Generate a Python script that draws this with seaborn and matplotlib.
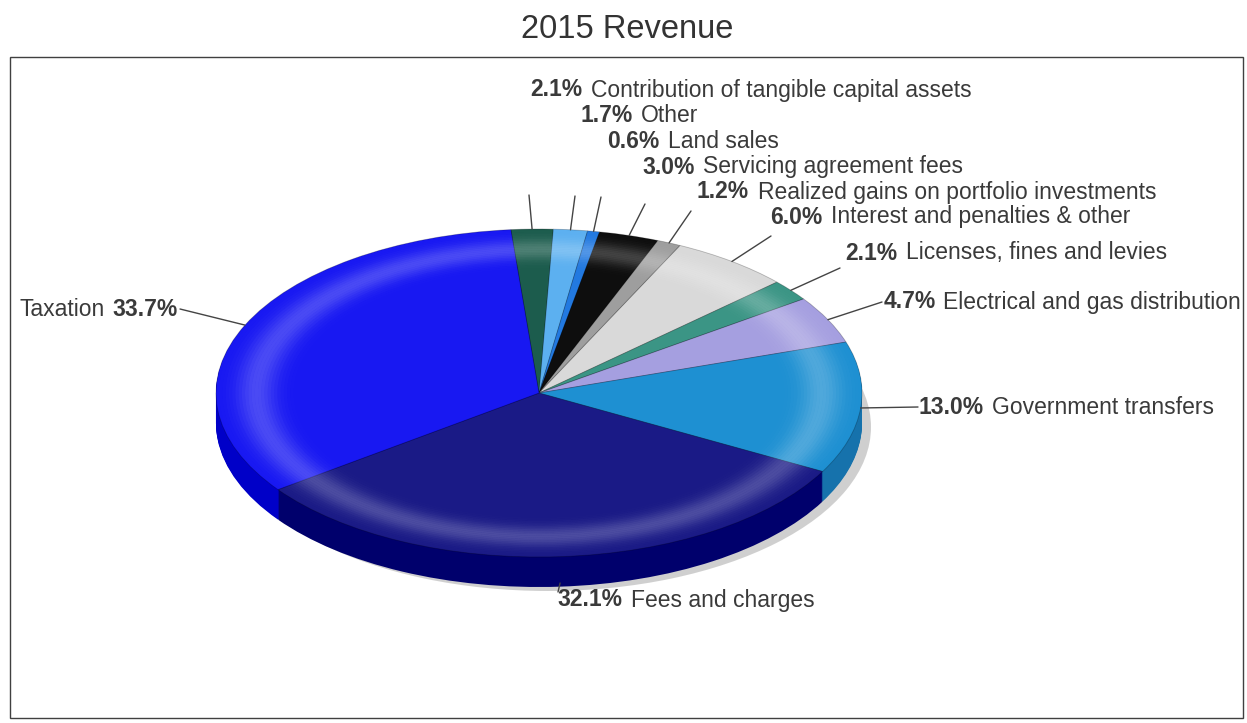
import numpy as np
import matplotlib
matplotlib.use("Agg")
import matplotlib.pyplot as plt
import seaborn as sns
from matplotlib.patches import Rectangle, Wedge

sns.set_theme(style="white")
plt.rcParams['font.family'] = ['Liberation Sans', 'DejaVu Sans']

# Revenue composition, listed clockwise from the top of the pie
categories = [
    "Contribution of tangible capital assets",
    "Other",
    "Land sales",
    "Servicing agreement fees",
    "Realized gains on portfolio investments",
    "Interest and penalties & other",
    "Licenses, fines and levies",
    "Electrical and gas distribution",
    "Government transfers",
    "Fees and charges",
    "Taxation",
]
shares = [2.1, 1.7, 0.6, 3.0, 1.2, 6.0, 2.1, 4.7, 13.0, 32.1, 33.7]

top_colors = ["#1c5c4d", "#5cb0f0", "#2279e0", "#0e0e0e", "#9e9e9e", "#d9d9d9",
              "#3b9585", "#a59fe0", "#1e90d2", "#1a1a86", "#1818f2"]
side_colors = ["#0f3a30", "#3a85c0", "#1555a8", "#000000", "#6e6e6e", "#a8a8a8",
               "#23695c", "#7670b0", "#1672ac", "#00006c", "#0000c8"]

TEXT = "#3a3a3a"
W, H = 1247, 723
fig = plt.figure(figsize=(W / 100, H / 100), dpi=100)
fig.patch.set_facecolor("white")

# Geometry of the tilted pie, in pixels
CX, CY, RX, RY, DEPTH = 539, 393, 323, 164, 30
START = 95
PAD = 24

pax = fig.add_axes([(CX - RX - PAD) / W, (H - (CY + RY + DEPTH + PAD)) / H,
                    (2 * RX + 2 * PAD) / W, (2 * RY + DEPTH + 2 * PAD) / H])

# soft drop shadow
pax.pie([1], colors=["#c4c4c4"], radius=1.0, center=(9 / RX, -(DEPTH + 4) / RY),
        wedgeprops=dict(linewidth=0, alpha=0.8))

# extruded wall: stacked layers in darker tones
for k in range(DEPTH, 0, -1):
    pax.pie(shares, colors=side_colors, startangle=START, counterclock=False,
            center=(0, -k / RY), radius=1.0, wedgeprops=dict(linewidth=0))

# top face
pax.pie(shares, colors=top_colors, startangle=START, counterclock=False,
        center=(0, 0), radius=1.0,
        wedgeprops=dict(linewidth=0.6, edgecolor=(0, 0, 0, 0.25)))

# bevel highlight ring near the rim
for r in np.linspace(0.70, 0.99, 30):
    a = 0.22 * np.exp(-((r - 0.87) / 0.06) ** 2)
    pax.add_patch(Wedge((0, 0), r + 0.01, 0, 360, width=0.01,
                        facecolor="white", alpha=a, linewidth=0))

pax.set_aspect("auto")
pax.set_xlim(-(RX + PAD) / RX, (RX + PAD) / RX)
pax.set_ylim(-(RY + DEPTH + PAD) / RY, (RY + PAD) / RY)
pax.axis("off")

# overlay in pixel coordinates for frame, title, labels and leaders
ax = fig.add_axes([0, 0, 1, 1], zorder=5)
ax.set_xlim(0, W)
ax.set_ylim(H, 0)
ax.axis("off")

frame = Rectangle((10, 57), 1233, 661, fill=False, edgecolor="#404040",
                  linewidth=1.0)
ax.add_patch(frame)
ax.text(627, 29, "2015 Revenue", ha="center", va="center", fontsize=23.5,
        color="#333333")

total = sum(shares)
cum = np.concatenate([[0], np.cumsum(shares)[:-1]])
mid_angles = START - 360 * (cum + np.array(shares) / 2) / total

# label anchor (x, y) and leader end point per slice
label_pos = [(530, 90), (580, 116), (607, 141), (642, 167), (697, 192),
             (770, 217), (845, 253), (884, 302), (918, 407), (557, 600),
             (178, 309)]
leader_end = [(529, 195), (575, 196), (601, 197), (645, 204), (691, 211),
              (771, 236), (840, 268), (882, 302), (918, 407), (558, 592),
              (180, 309)]

renderer = fig.canvas.get_renderer()
FS = 16.5
for i, (name, val) in enumerate(zip(categories, shares)):
    th = np.deg2rad(mid_angles[i])
    ex = CX + RX * np.cos(th)
    ey = CY - RY * np.sin(th)
    if name == "Fees and charges":
        ey = CY + RY + DEPTH - 4
    lx, ly = leader_end[i]
    ax.plot([ex, lx], [ey, ly], color="#444444", linewidth=1.0)

    x, y = label_pos[i]
    if name == "Taxation":
        tp = ax.text(x, y, f"{val:.1f}%", fontsize=FS, fontweight="bold",
                     ha="right", va="center", color=TEXT)
        bb = tp.get_window_extent(renderer)
        ax.text(bb.x0 - 8, y, name, fontsize=FS, ha="right", va="center",
                color=TEXT)
    else:
        tp = ax.text(x, y, f"{val:.1f}%", fontsize=FS, fontweight="bold",
                     ha="left", va="center", color=TEXT)
        bb = tp.get_window_extent(renderer)
        gap = 7 if name == "Electrical and gas distribution" else 9
        ax.text(bb.x1 + gap, y, name, fontsize=FS, ha="left", va="center",
                color=TEXT)

fig.savefig("out.png", dpi=100, facecolor="white")
